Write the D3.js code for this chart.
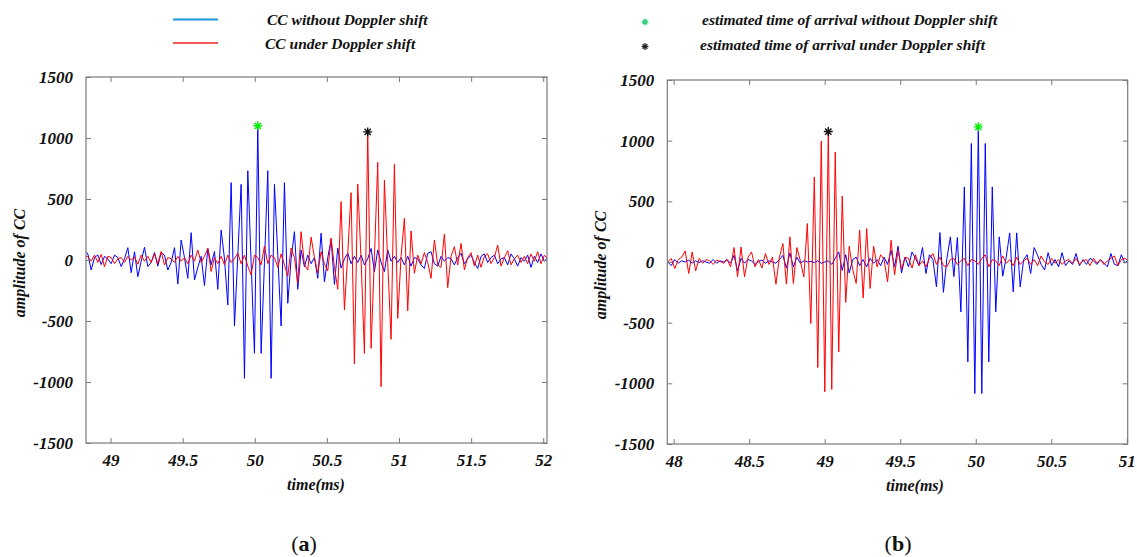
<!DOCTYPE html>
<html>
<head>
<meta charset="utf-8">
<script src="https://cdn.jsdelivr.net/npm/d3@7"></script>
<style>
  body { margin: 0; background: #fff; }
</style>
</head>
<body>
<div id="chart"></div>
<script>
var FONT = "'Liberation Serif', 'Times New Roman', serif";

// sampling grid of the cross-correlation (ms)
var DT = 0.0231;
var T0_A = 48.8198;
var T0_B = 47.938;

// panel (a) - CC without Doppler shift (blue) / under Doppler shift (red)
var blueA = [82, 50, -82, 20, 41, -37, 30, 8, -30, 40,
  20, -54, 10, 101, -104, 68, -137, -10, 104, -54,
  -20, 61, -50, 61, 40, -82, -20, 101, -197, 164,
  20, -150, 224, -164, -60, 30, -210, 95, -40, 70,
  -240, 246, 10, -369, 634, -541, 40, 620, -970, 732,
  -20, -765, 1100, -765, -20, 732, -970, 620, 40, -541,
  634, -355, 10, 232, -240, 82, -54, 40, -30, 20,
  -150, 220, -180, 20, 170, -200, 98, -66, 10, 55,
  -30, 30, -20, 40, -40, 10, 95, -95, 82, -20,
  -95, 82, -10, 30, -20, 20, -40, 30, -50, 20,
  10, -40, -70, 55, 68, -30, -50, 30, -10, 20,
  10, -40, 20, 55, -30, 10, 40, -20, -70, 30,
  50, -20, 20, 40, -30, 10, 20, -40, 50, 10,
  -50, 20, -10, 40, -60, 30, -20, 50, -10, 20];
var redA = [20, 30, -10, 40, -20, 45, -55, 30, 20, -30,
  10, 20, -20, 30, 0, 25, -35, 40, -10, 30,
  -20, 50, -30, 70, -40, 20, 10, -20, 30, -10,
  20, -30, 40, -10, 82, -20, 30, 95, -95, 20,
  -30, 30, -40, 40, -20, 10, 57, -30, 40, -50,
  -123, 40, 20, -40, 115, -30, 40, 20, -60, 50,
  -40, -133, 98, 20, -189, 232, -40, -82, 188, 20,
  -107, 68, -30, -90, 180, -60, -240, 478, -410, 50,
  552, -852, 623, 0, -765, 1050, -724, 20, 801, -1038,
  656, -20, -650, 784, -478, 30, 342, -416, 238, -109,
  40, -30, 60, -20, -150, 164, -40, -60, 213, -227,
  30, 109, -40, 136, -80, 20, 60, -50, 40, -60,
  30, 50, -30, 20, 123, -50, 20, 76, -40, 10,
  40, -20, 30, -30, 50, -10, 68, -30, 40, 10];

// panel (b)
var blueB = [10, 0, -30, 20, -10, 10, 0, 15, -10, 10,
  -5, 10, 0, -10, 20, -10, 10, 0, 20, -10,
  55, -73, 30, -10, 20, 10, -20, 5, 15, -10,
  10, 0, -10, 20, 55, -50, 75, -40, 40, -10,
  10, 0, 5, -5, 10, -10, 0, 10, -20, 30,
  83, -70, 60, -90, 20, 40, -30, 20, -40, 30,
  -10, 20, -30, 40, -20, 97, -40, 130, -90, 40,
  -40, 83, 30, -30, 119, -95, 60, 20, -205, 243,
  -250, 30, 207, -120, 202, -411, 619, -823, 977, -1084,
  1114, -1084, 977, -823, 619, -411, 207, -117, 40, 240,
  -246, 240, -205, 20, 60, -95, 119, 55, -20, -66,
  77, -30, 20, -40, 77, -30, 10, -20, 70, -30,
  20, -20, 30, 10, -20, 20, -10, -40, 70, -20,
  -30, 60, -10, 20];
var redB = [10, 0, 29, -54, 20, 40, 91, -95, 83, -73,
  30, -10, 20, 10, -20, 15, 5, -10, 20, -40,
  119, -122, 124, -122, 40, 83, -40, 20, -50, 70,
  -20, 40, -183, 40, 152, -183, 207, -177, 119, 10,
  -123, 317, -507, 701, -870, 998, -1070, 1075, -1050, 907,
  -740, 542, -333, 130, -60, -177, 262, -297, 276, -218,
  130, -40, 60, 20, -164, 180, -107, 97, -60, 40,
  30, -50, 60, -30, 10, -40, 30, 70, -20, 40,
  -30, -40, 20, 30, -20, 10, 30, -30, 20, 10,
  -20, 30, 60, -40, 20, 10, -30, 50, -10, 20,
  -30, 40, -20, 10, 30, -20, 20, -30, 50, 0,
  -20, 30, -10, 20, -20, 10, 20, -10, 30, -20,
  10, 20, -30, 30, -10, 20, -20, 10, 30, 50,
  -30, 20, 30, 10];

var yTicks = [-1500, -1000, -500, 0, 500, 1000, 1500];
var xTicksA = [49, 49.5, 50, 50.5, 51, 51.5, 52];
var xTicksB = [48, 48.5, 49, 49.5, 50, 50.5, 51];

var legendLines = ["CC without Doppler shift", "CC under Doppler shift"];
var legendStars = ["estimated time of arrival without Doppler shift", "estimated time of arrival under Doppler shift"];

var svg = d3.select("#chart")
  .append("svg")
  .attr("width", 1137)
  .attr("height", 557);

// bold italic label helper
function styleLabel(sel, size) {
  return sel.attr("font-family", FONT)
    .attr("font-weight", "bold")
    .attr("font-style", "italic")
    .attr("font-size", size)
    .attr("fill", "#111");
}

// legend
var legLine = svg.append("g");
legLine.selectAll("line")
  .data(legendLines)
  .enter()
  .append("line")
  .attr("x1", 173).attr("x2", 218)
  .attr("y1", function(d, i) { return 19.5 + i * 23.5; })
  .attr("y2", function(d, i) { return 19.5 + i * 23.5; })
  .attr("stroke", function(d, i) { return i == 0 ? "#1f94dc" : "#f25a5a"; })
  .attr("stroke-width", 2);
styleLabel(legLine.selectAll("text")
  .data(legendLines)
  .enter()
  .append("text")
  .attr("x", function(d, i) { return i == 0 ? 267 : 265; })
  .attr("y", function(d, i) { return 25 + i * 24; })
  .text(function(d) { return d; }), 15.5);

function starPath(r) {
  var k = r * 0.7;
  return "M" + (-r) + ",0L" + r + ",0M0," + (-r) + "L0," + r +
    "M" + (-k) + "," + (-k) + "L" + k + "," + k +
    "M" + (-k) + "," + k + "L" + k + "," + (-k);
}

var legStar = svg.append("g");
legStar.selectAll("path")
  .data(legendStars)
  .enter()
  .append("path")
  .attr("d", starPath(3.4))
  .attr("transform", function(d, i) { return "translate(645," + (22 + i * 24.5) + ")"; })
  .attr("fill", "none")
  .attr("stroke", function(d, i) { return i == 0 ? "#2fcf7f" : "#222"; })
  .attr("stroke-width", 1.3);
styleLabel(legStar.selectAll("text")
  .data(legendStars)
  .enter()
  .append("text")
  .attr("x", function(d, i) { return i == 0 ? 702 : 700; })
  .attr("y", function(d, i) { return 25 + i * 25; })
  .text(function(d) { return d; }), 15.5);

function drawPanel(cfg) {
  var xScale = d3.scaleLinear().domain(cfg.xDomain).range([cfg.left, cfg.right]);
  var yScale = d3.scaleLinear().domain([-1500, 1500]).range([cfg.bottom, cfg.top]);
  var g = svg.append("g");

  g.append("clipPath")
    .attr("id", cfg.id + "-clip")
    .append("rect")
    .attr("x", cfg.left).attr("y", cfg.top)
    .attr("width", cfg.right - cfg.left)
    .attr("height", cfg.bottom - cfg.top);

  var line = d3.line()
    .x(function(d, i) { return xScale(cfg.t0 + i * DT); })
    .y(function(d) { return yScale(d); });

  var plot = g.append("g").attr("clip-path", "url(#" + cfg.id + "-clip)");
  cfg.series.forEach(function(s) {
    plot.append("path")
      .datum(s.values)
      .attr("fill", "none")
      .attr("stroke", s.color)
      .attr("stroke-width", 1)
      .attr("d", line);
  });

  // stars on the peaks
  cfg.series.forEach(function(s) {
    var k = d3.maxIndex(s.values);
    g.append("path")
      .attr("d", starPath(4.5))
      .attr("transform", "translate(" + xScale(cfg.t0 + k * DT) + "," + yScale(s.values[k]) + ")")
      .attr("fill", "none")
      .attr("stroke", s.star)
      .attr("stroke-width", 1.4);
  });

  // box with inward ticks on all sides
  var axisColor = "#7a7a7a";
  g.append("rect")
    .attr("x", cfg.left).attr("y", cfg.top)
    .attr("width", cfg.right - cfg.left)
    .attr("height", cfg.bottom - cfg.top)
    .attr("fill", "none")
    .attr("stroke", axisColor)
    .attr("stroke-width", 1.2);

  var bottomAxis = d3.axisBottom(xScale).tickValues(cfg.xTicks).tickSize(-5).tickFormat(function(d) { return d; }).tickPadding(11);
  var topAxis = d3.axisTop(xScale).tickValues(cfg.xTicks).tickSize(-5).tickFormat("");
  var leftAxis = d3.axisLeft(yScale).tickValues(yTicks).tickSize(-5).tickFormat(function(d) { return d; }).tickPadding(13);
  var rightAxis = d3.axisRight(yScale).tickValues(yTicks).tickSize(-5).tickFormat("");

  [[bottomAxis, "translate(0," + cfg.bottom + ")"],
   [topAxis, "translate(0," + cfg.top + ")"],
   [leftAxis, "translate(" + cfg.left + ",0)"],
   [rightAxis, "translate(" + cfg.right + ",0)"]].forEach(function(a) {
    var ax = g.append("g").attr("transform", a[1]).call(a[0]);
    ax.select(".domain").remove();
    ax.selectAll("line").attr("stroke", axisColor);
    styleLabel(ax.selectAll("text"), 17);
  });

  // axis titles
  styleLabel(g.append("text")
    .attr("x", cfg.xTitleX)
    .attr("y", cfg.bottom + 47)
    .attr("text-anchor", "middle")
    .text("time(ms)"), 16);

  styleLabel(g.append("text")
    .attr("transform", "translate(" + (cfg.left - 61) + "," + ((cfg.top + cfg.bottom) / 2 + 3) + ")rotate(-90)")
    .attr("text-anchor", "middle")
    .text("amplitude of CC"), 16);

  // panel caption
  var cap = g.append("text")
    .attr("x", cfg.capX)
    .attr("y", 551)
    .attr("text-anchor", "middle")
    .attr("font-family", FONT)
    .attr("font-size", 22)
    .attr("fill", "#111");
  cap.append("tspan").text("(");
  cap.append("tspan").attr("font-weight", "bold").text(cfg.caption);
  cap.append("tspan").text(")");
}

drawPanel({
  id: "pa", left: 86, right: 547, top: 77, bottom: 443,
  xDomain: [48.83, 52.026], xTicks: xTicksA, t0: T0_A,
  caption: "a", capX: 304, xTitleX: 316,
  series: [
    { values: blueA, color: "#0000ff", star: "#00ee00" },
    { values: redA, color: "#ff0000", star: "#111" }
  ]
});

drawPanel({
  id: "pb", left: 667.3, right: 1127.7, top: 80, bottom: 444,
  xDomain: [47.958, 51.006], xTicks: xTicksB, t0: T0_B,
  caption: "b", capX: 898, xTitleX: 915,
  series: [
    { values: blueB, color: "#0000ff", star: "#00ee00" },
    { values: redB, color: "#ff0000", star: "#111" }
  ]
});
</script>
</body>
</html>
